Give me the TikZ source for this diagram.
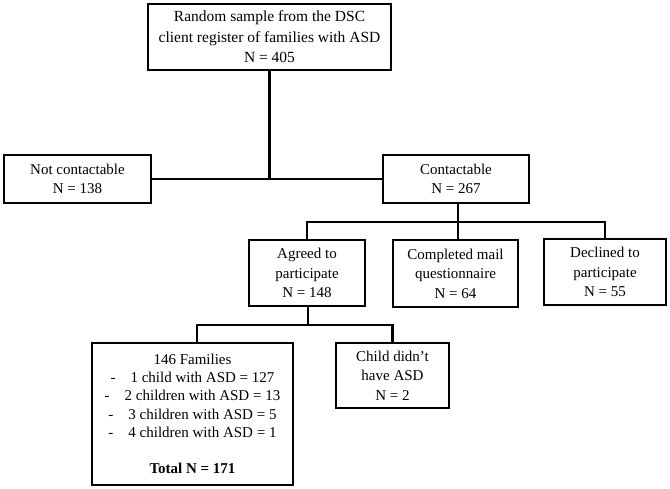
\documentclass[tikz,border=0pt]{standalone}
\usepackage{fontspec}
\setmainfont{Liberation Serif}
\begin{document}
\begin{tikzpicture}[x=1pt,y=-1pt,
  box/.style={draw, line width=1.5pt, align=center, inner sep=0pt, fill=white,
    font=\fontsize{15}{19.5}\selectfont},
  conn/.style={line width=2.8pt}]
\fill[white] (0,0) rectangle (670,489);
\useasboundingbox (0,0) rectangle (670,489);
\node[box, minimum width=243pt, minimum height=66pt, font=\fontsize{15.5}{20.5}\selectfont] (top) at (269.5,37) {Random sample from the DSC\\client register of families with ASD\\N = 405};
\node[box, minimum width=147pt, minimum height=48pt] (nc) at (77.5,179) {Not contactable\\N = 138};
\node[box, minimum width=146pt, minimum height=48pt] (ct) at (456,179) {Contactable\\N = 267};
\node[box, minimum width=116pt, minimum height=66pt] (ag) at (307,273) {Agreed to\\participate\\N = 148};
\node[box, minimum width=125pt, minimum height=67pt] (cm) at (455.5,273.5) {Completed mail\\questionnaire\\N = 64};
\node[box, minimum width=122pt, minimum height=66pt] (dc) at (605,272) {Declined to\\participate\\N = 55};
\node[box, minimum width=201pt, minimum height=142pt, font=\fontsize{15}{18.2}\selectfont] (fam) at (192.5,414) {146 Families\\-\quad 1 child with ASD = 127\\-\quad 2 children with ASD = 13\\-\quad 3 children with ASD = 5\\-\quad 4 children with ASD = 1\\[18.2pt]\textbf{Total N = 171}};
\node[box, minimum width=113pt, minimum height=65pt] (ch) at (392.5,375.5) {Child didn't\\have ASD\\N = 2};
\coordinate (j2) at (458,222);
\coordinate (j3) at (308,325);
\draw[conn] (top.south) -- (top.south |- nc.east);
\draw[conn] (nc.east) -- (ct.west);
\draw[conn] (ct.south -| j2) -- (j2);
\draw[conn] (ag.north) -- (ag.north |- j2) -- (dc.north |- j2) -- (dc.north);
\draw[conn] (cm.north -| j2) -- (j2);
\draw[conn] (ag.south -| j3) -- (j3);
\draw[conn] ([xshift=4.5pt]fam.north) -- ([xshift=4.5pt]fam.north |- j3) -- (ch.north |- j3) -- (ch.north);
\end{tikzpicture}
\end{document}
